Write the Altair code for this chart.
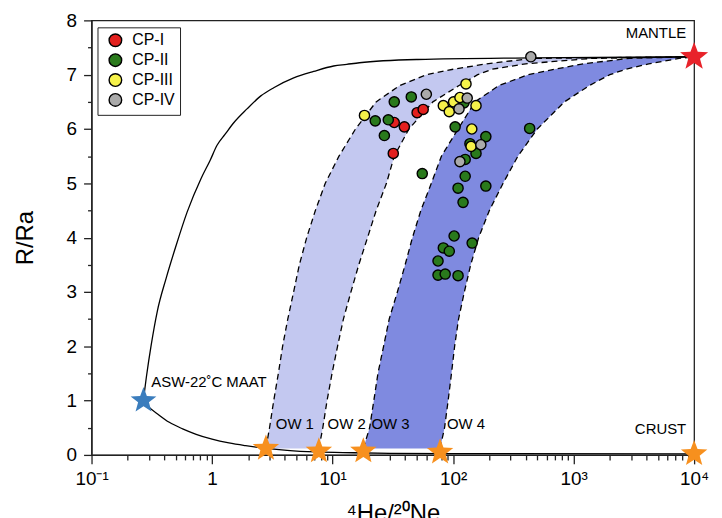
import math
import altair as alt
import pandas as pd

FONT = "Liberation Sans"

# ---------------- data ----------------
groups = ["CP-I", "CP-II", "CP-III", "CP-IV"]
group_colors = ["#e3201e", "#2a7a1c", "#f6f24a", "#aaaaaa"]

cp1_x = [32.5, 39.4, 50.3, 56.5, 31.9]
cp1_y = [6.12, 6.04, 6.30, 6.36, 5.55]

cp2_x = [22.6, 32.5, 45, 29, 26.9, 104, 123, 187, 138, 155, 126, 55.5, 126,
         110, 187, 121, 432, 102, 144, 83, 93, 75, 75, 86, 110]
cp2_y = [6.15, 6.50, 6.59, 6.17, 5.88, 6.04, 6.48, 5.86, 5.73, 5.55, 5.44, 5.18, 5.13,
         4.91, 4.95, 4.65, 6.01, 4.03, 3.90, 3.81, 3.75, 3.57, 3.31, 3.33, 3.30]

cp3_x = [18.4, 128, 83, 93, 101, 114, 155, 143, 141]
cp3_y = [6.25, 6.83, 6.43, 6.32, 6.50, 6.58, 6.43, 6.00, 5.68]

cp4_x = [60, 131, 112, 442, 170, 114]
cp4_y = [6.64, 6.57, 6.37, 7.33, 5.71, 5.40]

# mixing-band edges (x read at common R/Ra levels)
band_y = [0.12, 0.5, 1.0, 1.5, 2.0, 2.5, 3.0, 3.5, 4.0, 4.5, 5.0, 5.5, 6.0, 6.5,
          6.8, 7.0, 7.1, 7.2, 7.3, 7.33]
ow1_x = [2.8, 3.0, 3.25, 3.55, 3.85, 4.25, 4.75, 5.3, 6.1, 7.2, 8.7, 11.3, 15.5, 23,
         36, 60, 100, 190, 450, 10000]
ow2_x = [7.7, 8.3, 9.0, 9.9, 11.0, 12.3, 14.2, 16.5, 19.5, 23, 28, 32.5, 43, 68,
         112, 160, 210, 400, 1400, 10000]
ow3_x = [18, 20.3, 22, 23.8, 26.5, 29.5, 34.5, 40, 46, 54, 66, 80, 110, 152,
         240, 420, 700, 1200, 2900, 10000]
ow4_x = [78, 85, 91, 97, 103, 111, 124, 140, 163, 200, 260, 345, 500, 840,
         1350, 2000, 2700, 4200, 7500, 10000]

# solid mixing curves
asw_mantle_x = [0.269, 0.285, 0.313, 0.351, 0.417, 0.504, 0.621, 0.811, 0.963, 1.10,
                1.28, 1.52, 1.95, 2.54, 3.25, 4.76, 6.97, 10.2, 13.1, 16.7, 51,
                442, 10000]
asw_mantle_y = [1.0, 1.43, 2.03, 2.64, 3.26, 3.86, 4.47, 5.09, 5.42, 5.70,
                5.90, 6.12, 6.37, 6.61, 6.76, 6.94, 7.06, 7.16, 7.19, 7.22, 7.28,
                7.31, 7.33]
asw_crust_x = [0.269, 0.30, 0.36, 0.442, 0.57, 0.738, 1.0, 1.38, 1.9, 2.59, 4.2, 7.2,
               15, 30, 100, 10000]
asw_crust_y = [1.0, 0.88, 0.74, 0.60, 0.48, 0.38, 0.29, 0.22, 0.17, 0.13, 0.085, 0.055,
               0.04, 0.03, 0.025, 0.02]

# end-members
asw_x, asw_y = [0.27], [1.0]
mantle_x, mantle_y = [10000], [7.33]
ow_x = [2.8, 7.7, 18, 78, 10000]
ow_y = [0.12, 0.07, 0.07, 0.05, 0.02]

# annotations
left_labels = ["ASW-22˚C MAAT", "OW 1", "OW 2", "OW 3", "OW 4"]
left_lab_x = [0.313, 3.38, 9.1, 21, 89]
left_lab_y = [1.34, 0.57, 0.57, 0.57, 0.57]
right_labels = ["MANTLE", "CRUST"]
right_lab_x = [8600, 8600]
right_lab_y = [7.77, 0.48]

# axes
x_major = [0.1, 1, 10, 100, 1000, 10000]
x_major_labels = ["10⁻¹", "1", "10¹", "10²", "10³", "10⁴"]
x_minor = [0.2, 0.3, 0.4, 0.5, 0.6, 0.7, 0.8, 0.9,
           2, 3, 4, 5, 6, 7, 8, 9,
           20, 30, 40, 50, 60, 70, 80, 90,
           200, 300, 400, 500, 600, 700, 800, 900,
           2000, 3000, 4000, 5000, 6000, 7000, 8000, 9000]
y_ticks = [0, 0.5, 1, 1.5, 2, 2.5, 3, 3.5, 4, 4.5, 5, 5.5, 6, 6.5, 7, 7.5, 8]

# ---------------- tables ----------------
pts = pd.DataFrame({
    "x": cp1_x + cp2_x + cp3_x + cp4_x,
    "y": cp1_y + cp2_y + cp3_y + cp4_y,
    "group": ["CP-I"] * len(cp1_x) + ["CP-II"] * len(cp2_x)
             + ["CP-III"] * len(cp3_x) + ["CP-IV"] * len(cp4_x),
})
band = pd.DataFrame({"y": band_y, "ow1": ow1_x, "ow2": ow2_x, "ow3": ow3_x, "ow4": ow4_x})
edges = pd.concat([
    pd.DataFrame({"x": xs, "y": band_y, "edge": name})
    for name, xs in [("ow1", ow1_x), ("ow2", ow2_x), ("ow3", ow3_x), ("ow4", ow4_x)]
])
curves = pd.concat([
    pd.DataFrame({"x": asw_mantle_x, "y": asw_mantle_y, "curve": "mantle"}),
    pd.DataFrame({"x": asw_crust_x, "y": asw_crust_y, "curve": "crust"}),
])
lab_l = pd.DataFrame({"x": left_lab_x, "y": left_lab_y, "t": left_labels})
lab_r = pd.DataFrame({"x": right_lab_x, "y": right_lab_y, "t": right_labels})

# ---------------- styling ----------------
star_pts = []
for i in range(10):
    r = 1.0 if i % 2 == 0 else 0.42
    a = -math.pi / 2 + i * math.pi / 5
    star_pts.append(f"{r * math.cos(a):.3f},{r * math.sin(a):.3f}")
STAR = "M" + " L".join(star_pts) + " Z"

xscale = alt.Scale(type="log", domain=[0.1, 10000], nice=False)
yscale = alt.Scale(domain=[0, 8], nice=False, zero=False)

label_expr = " : ".join(
    f"datum.value == {v} ? '{t}'" for v, t in zip(x_major, x_major_labels)
) + " : ''"
major_test = "indexof([" + ",".join(str(v) for v in x_major) + "], datum.value) >= 0"

x_axis = alt.Axis(
    values=sorted(x_major + x_minor), labelExpr=label_expr, labelOverlap=False,
    labelFlush=False, labelBound=False,
    tickSize={"condition": {"test": major_test, "value": 9}, "value": 5},
    labelPadding=6, title="⁴He/²⁰Ne", titlePadding=13,
)
y_axis = alt.Axis(
    values=y_ticks,
    labelExpr="datum.value % 1 === 0 ? format(datum.value, 'd') : ''",
    tickSize={"condition": {"test": "datum.value % 1 === 0", "value": 8}, "value": 4},
    labelPadding=7, title="R/Ra", titlePadding=29,
)


def X(field):
    return alt.X(f"{field}:Q", scale=xscale, axis=x_axis)


def Y(field):
    return alt.Y(f"{field}:Q", scale=yscale, axis=y_axis)


band1 = alt.Chart(band).mark_area(orient="horizontal", color="#c3c8f0", opacity=1).encode(
    y=Y("y"), x=X("ow1"), x2="ow2")
band2 = alt.Chart(band).mark_area(orient="horizontal", color="#7f8ae0", opacity=1).encode(
    y=Y("y"), x=X("ow3"), x2="ow4")

dashed = alt.Chart(edges).mark_line(color="black", strokeWidth=1.3, strokeDash=[6, 4]).encode(
    x=X("x"), y=Y("y"), detail="edge:N")
solid = alt.Chart(curves).mark_line(color="black", strokeWidth=1.3, interpolate="monotone").encode(
    x=X("x"), y=Y("y"), detail="curve:N")

points = alt.Chart(pts).mark_circle(size=105, stroke="black", strokeWidth=1.4, opacity=1).encode(
    x=X("x"), y=Y("y"),
    color=alt.Color("group:N", scale=alt.Scale(domain=groups, range=group_colors),
                    legend=alt.Legend(
                        title=None, orient="none", legendX=6, legendY=7,
                        fillColor="white", strokeColor="#222222", padding=5,
                        symbolType="circle", symbolSize=160, symbolStrokeColor="black",
                        symbolStrokeWidth=1.4, symbolOpacity=1, symbolOffset=5,
                        labelFont=FONT, labelFontSize=16, labelColor="black",
                        rowPadding=0, labelOffset=9, cornerRadius=0)),
)


def stars(xs, ys, color, size):
    df = pd.DataFrame({"x": xs, "y": ys})
    return alt.Chart(df).mark_point(shape=STAR, filled=True, size=size, color=color,
                                    opacity=1, strokeWidth=0).encode(x=X("x"), y=Y("y"))


s_ow = stars(ow_x, ow_y, "#f7901e", 780)
s_asw = stars(asw_x, asw_y, "#3b7dbd", 740)
s_mantle = stars(mantle_x, mantle_y, "#e8232a", 880)

txt_l = alt.Chart(lab_l).mark_text(align="left", baseline="middle", font=FONT,
                                   fontSize=15, color="black").encode(
    x=X("x"), y=Y("y"), text="t:N")
txt_r = alt.Chart(lab_r).mark_text(align="right", baseline="middle", font=FONT,
                                   fontSize=15, color="black").encode(
    x=X("x"), y=Y("y"), text="t:N")

chart = alt.layer(
    band1, band2, dashed, solid, points, s_ow, s_asw, s_mantle, txt_l, txt_r
).properties(
    width=606, height=437,
    padding={"left": 84, "top": 11, "right": 20, "bottom": 62},
    autosize=alt.AutoSizeParams(type="none"),
).configure_view(
    stroke="#222222", strokeWidth=1.3
).configure_axis(
    grid=False, domainColor="#222222", domainWidth=1.3, tickColor="#222222",
    tickWidth=1.3, labelFont=FONT, labelFontSize=19, labelColor="black",
    titleFont=FONT, titleFontSize=24, titleFontWeight="normal", titleColor="black",
)

chart.save("out.html", embed_options={"renderer": "svg", "actions": False})
